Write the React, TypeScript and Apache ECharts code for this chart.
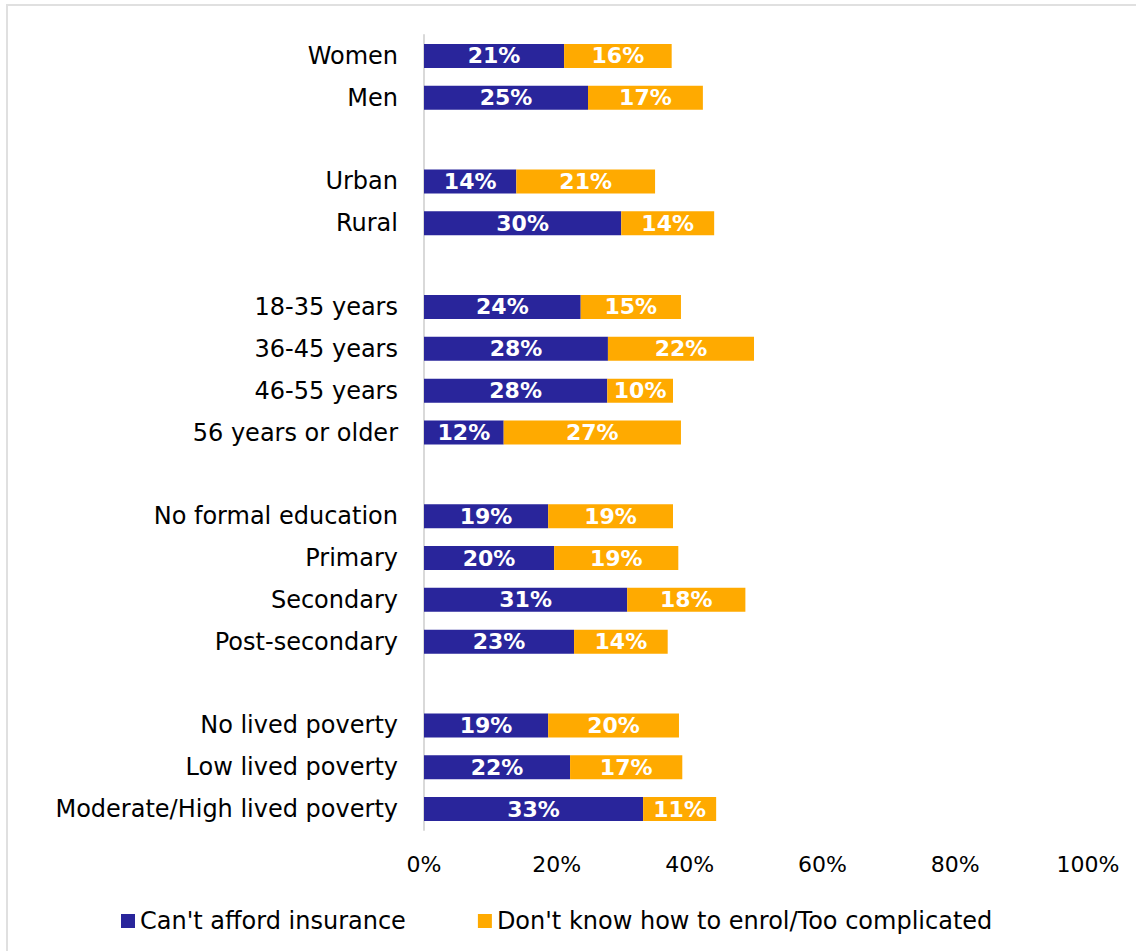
import React, { useEffect, useRef } from "react";
import * as echarts from "echarts";

const categories = [
  "Women", "Men", "",
  "Urban", "Rural", " ",
  "18-35 years", "36-45 years", "46-55 years", "56 years or older", "  ",
  "No formal education", "Primary", "Secondary", "Post-secondary", "   ",
  "No lived poverty", "Low lived poverty", "Moderate/High lived poverty",
];

const cantAfford = [
  21.1, 24.7, null,
  13.9, 29.7, null,
  23.6, 27.7, 27.6, 12.0, null,
  18.7, 19.6, 30.6, 22.6, null,
  18.7, 22.0, 33.0,
];

const dontKnow = [
  16.2, 17.3, null,
  20.9, 14.0, null,
  15.1, 22.0, 9.9, 26.7, null,
  18.8, 18.7, 17.8, 14.1, null,
  19.7, 16.9, 11.0,
];

const seriesNames = ["Can't afford insurance", "Don't know how to enrol/Too complicated"];
const xTicks = [0, 20, 40, 60, 80, 100];

const FONT = "DejaVu Sans";

export default function App() {
  const ref = useRef<HTMLDivElement>(null);
  useEffect(() => {
    if (!ref.current) return;
    const chart = echarts.init(ref.current, null, { renderer: "svg" });
    const label = {
      show: true,
      position: "inside",
      color: "#ffffff",
      fontFamily: FONT,
      fontWeight: "bold",
      fontSize: 22,
      formatter: (p: any) => (p.value == null ? "" : Math.round(p.value) + "%"),
    };
    chart.setOption({
      animation: false,
      backgroundColor: "#ffffff",
      graphic: [
        {
          type: "rect",
          shape: { x: 7, y: 5, width: 1300, height: 1100 },
          style: { fill: "none", stroke: "#e0e0e0", lineWidth: 2 },
          silent: true,
        },
      ],
      grid: { left: 424, right: 48, top: 35, bottom: 121, containLabel: false },
      xAxis: {
        type: "value",
        min: xTicks[0],
        max: xTicks[xTicks.length - 1],
        interval: 20,
        axisLine: { show: false },
        axisTick: { show: false },
        splitLine: { show: false },
        axisLabel: {
          formatter: "{value}%",
          color: "#000000",
          fontFamily: FONT,
          fontSize: 22,
          margin: 23,
        },
      },
      yAxis: {
        type: "category",
        inverse: true,
        data: categories,
        axisLine: { show: true, lineStyle: { color: "#d9d9d9", width: 2 } },
        axisTick: { show: false },
        axisLabel: {
          color: "#000000",
          fontFamily: FONT,
          fontSize: 24,
          margin: 26,
          padding: [3, 0, 0, 0],
        },
      },
      legend: {
        bottom: 13,
        left: 116,
        itemWidth: 14,
        itemHeight: 14,
        itemGap: 72,
        icon: "rect",
        textStyle: { color: "#000000", fontFamily: FONT, fontSize: 24 },
        data: seriesNames,
      },
      series: [
        {
          name: seriesNames[0],
          type: "bar",
          stack: "total",
          barWidth: 24,
          data: cantAfford,
          itemStyle: { color: "#29259B" },
          label,
        },
        {
          name: seriesNames[1],
          type: "bar",
          stack: "total",
          barWidth: 24,
          data: dontKnow,
          itemStyle: { color: "#FFAA00" },
          label,
        },
      ],
    });
    return () => chart.dispose();
  }, []);
  return (
    <div
      ref={ref}
      style={{ position: "absolute", left: 0, top: 0, width: 1136, height: 951 }}
    />
  );
}
